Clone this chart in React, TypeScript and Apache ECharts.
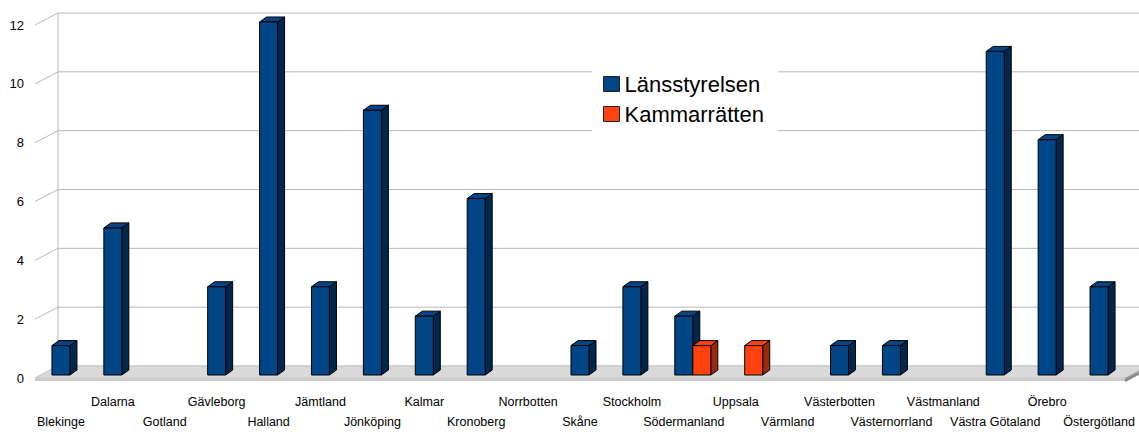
import React, { useEffect, useRef } from "react";
import * as echarts from "echarts";

const categories = [
  "Blekinge", "Dalarna", "Gotland", "Gävleborg", "Halland", "Jämtland", "Jönköping",
  "Kalmar", "Kronoberg", "Norrbotten", "Skåne", "Stockholm", "Södermanland", "Uppsala",
  "Värmland", "Västerbotten", "Västernorrland", "Västmanland", "Västra Götaland", "Örebro", "Östergötland",
];
const lansstyrelsen = [1, 5, 0, 3, 12, 3, 9, 2, 6, 0, 1, 3, 2, 0, 0, 1, 1, 0, 11, 8, 3];
const kammarratten = [0, 0, 0, 0, 0, 0, 0, 0, 0, 0, 0, 0, 1, 1, 0, 0, 0, 0, 0, 0, 0];
const seriesNames = ["Länsstyrelsen", "Kammarrätten"];
const yMin = 0;
const yMax = 12;
const yStep = 2;

const FONT = "'Liberation Sans', Arial, sans-serif";
const DEPTH_X = 23;
const DEPTH_Y = -12;

function barRenderer(startFrac: number, endFrac: number, front: string, side: string, top: string) {
  return (params: any, api: any) => {
    const i = api.value(0);
    const v = api.value(1);
    if (!v) return null;
    const band = api.size([1, 0])[0];
    const c = api.coord([i, 0]);
    const t = api.coord([i, v]);
    const x0 = c[0] + band * startFrac;
    const x1 = c[0] + band * endFrac;
    const yb = c[1] - 3;
    const yt = t[1] - 3;
    const dx = 7;
    const dy = -5;
    const stroke = { stroke: "#000", lineWidth: 1 };
    return {
      type: "group",
      children: [
        {
          type: "polygon",
          shape: { points: [[x1, yb], [x1 + dx, yb + dy], [x1 + dx, yt + dy], [x1, yt]] },
          style: { fill: side, ...stroke },
        },
        {
          type: "polygon",
          shape: { points: [[x0, yt], [x1, yt], [x1 + dx, yt + dy], [x0 + dx, yt + dy]] },
          style: { fill: top, ...stroke },
        },
        {
          type: "rect",
          shape: { x: x0, y: yt, width: x1 - x0, height: yb - yt },
          style: { fill: front, ...stroke },
        },
      ],
    };
  };
}

function backgroundRenderer(params: any, api: any) {
  const cs = params.coordSys;
  const L = cs.x;
  const R = cs.x + cs.width;
  const children: any[] = [];
  const y0 = api.coord([0, yMin])[1];
  const yTop = api.coord([0, yMax])[1];
  for (let v = yMin; v <= yMax; v += yStep) {
    const y = api.coord([0, v])[1];
    children.push({
      type: "line",
      shape: { x1: L + DEPTH_X, y1: y + DEPTH_Y, x2: R + DEPTH_X, y2: y + DEPTH_Y },
      style: { stroke: "#b8b8b8", lineWidth: 1 },
    });
    children.push({
      type: "line",
      shape: { x1: L, y1: y, x2: L + DEPTH_X, y2: y + DEPTH_Y },
      style: { stroke: "#b8b8b8", lineWidth: 1 },
    });
  }
  children.push({
    type: "line",
    shape: { x1: L + DEPTH_X, y1: yTop + DEPTH_Y, x2: L + DEPTH_X, y2: y0 + DEPTH_Y },
    style: { stroke: "#b8b8b8", lineWidth: 1 },
  });
  // floor top
  children.push({
    type: "polygon",
    shape: { points: [[L, y0], [L + DEPTH_X, y0 + DEPTH_Y], [R + DEPTH_X, y0 + DEPTH_Y], [R, y0]] },
    style: { fill: "#d9d9d9", stroke: "#c8c8c8", lineWidth: 1 },
  });
  // floor front face
  children.push({
    type: "rect",
    shape: { x: L, y: y0, width: R - L, height: 3 },
    style: { fill: "#cbcbcb" },
  });
  // floor right side
  children.push({
    type: "polygon",
    shape: { points: [[R, y0], [R + DEPTH_X, y0 + DEPTH_Y], [R + DEPTH_X, y0 + DEPTH_Y + 3], [R, y0 + 3]] },
    style: { fill: "#9a9a9a" },
  });
  children.push({
    type: "line",
    shape: { x1: R, y1: y0 + 3, x2: R + DEPTH_X, y2: y0 + 3 + DEPTH_Y },
    style: { stroke: "#8a8a8a", lineWidth: 2 },
  });
  return { type: "group", children };
}

export default function App() {
  const ref = useRef<HTMLDivElement>(null);
  useEffect(() => {
    if (!ref.current) return;
    const chart = echarts.init(ref.current, null, { renderer: "svg" });
    const barW = 9 / 51.9;
    chart.setOption({
      animation: false,
      backgroundColor: "#fff",
      textStyle: { fontFamily: FONT },
      grid: { left: 35, right: 14, top: 25, bottom: 52, containLabel: false },
      legend: {
        orient: "vertical",
        left: 592,
        top: 64,
        padding: [9, 14, 12, 11],
        backgroundColor: "#fff",
        itemWidth: 16,
        itemHeight: 15,
        itemGap: 8,
        icon: "rect",
        textStyle: { fontFamily: FONT, fontSize: 22, color: "#000", padding: [0, 0, 0, 0] },
        data: [
          { name: seriesNames[0], itemStyle: { color: "#004586", borderColor: "#222", borderWidth: 1 } },
          { name: seriesNames[1], itemStyle: { color: "#ff420e", borderColor: "#222", borderWidth: 1 } },
        ],
      },
      xAxis: {
        type: "category",
        data: categories,
        boundaryGap: true,
        axisLine: { show: false },
        axisTick: { show: false },
        splitLine: { show: false },
        axisLabel: {
          interval: 0,
          margin: 14,
          fontFamily: FONT,
          fontSize: 12.5,
          lineHeight: 20,
          color: "#000",
          verticalAlign: "top",
          formatter: (v: string, i: number) => (i % 2 === 0 ? "\n" + v : v),
        },
      },
      yAxis: {
        type: "value",
        min: yMin,
        max: yMax,
        interval: yStep,
        axisLine: { show: false },
        axisTick: { show: false },
        splitLine: { show: false },
        axisLabel: { margin: 11, fontFamily: FONT, fontSize: 13, color: "#000" },
      },
      series: [
        {
          type: "custom",
          name: "__bg",
          silent: true,
          z: 1,
          renderItem: backgroundRenderer,
          data: [[0, 0]],
          clip: false,
        },
        {
          type: "custom",
          name: seriesNames[0],
          z: 3,
          itemStyle: { color: "#004586" },
          renderItem: barRenderer(-barW, barW, "#004586", "#00274d", "#004586"),
          data: lansstyrelsen.map((v, i) => [i, v]),
          clip: false,
        },
        {
          type: "custom",
          name: seriesNames[1],
          z: 4,
          itemStyle: { color: "#ff420e" },
          renderItem: barRenderer(barW, barW * 3, "#ff420e", "#9b2a08", "#ff420e"),
          data: kammarratten.map((v, i) => [i, v]),
          clip: false,
        },
      ],
    });
    return () => chart.dispose();
  }, []);
  return (
    <div
      ref={ref}
      style={{ position: "absolute", left: 0, top: 0, width: 1139, height: 432 }}
    />
  );
}
